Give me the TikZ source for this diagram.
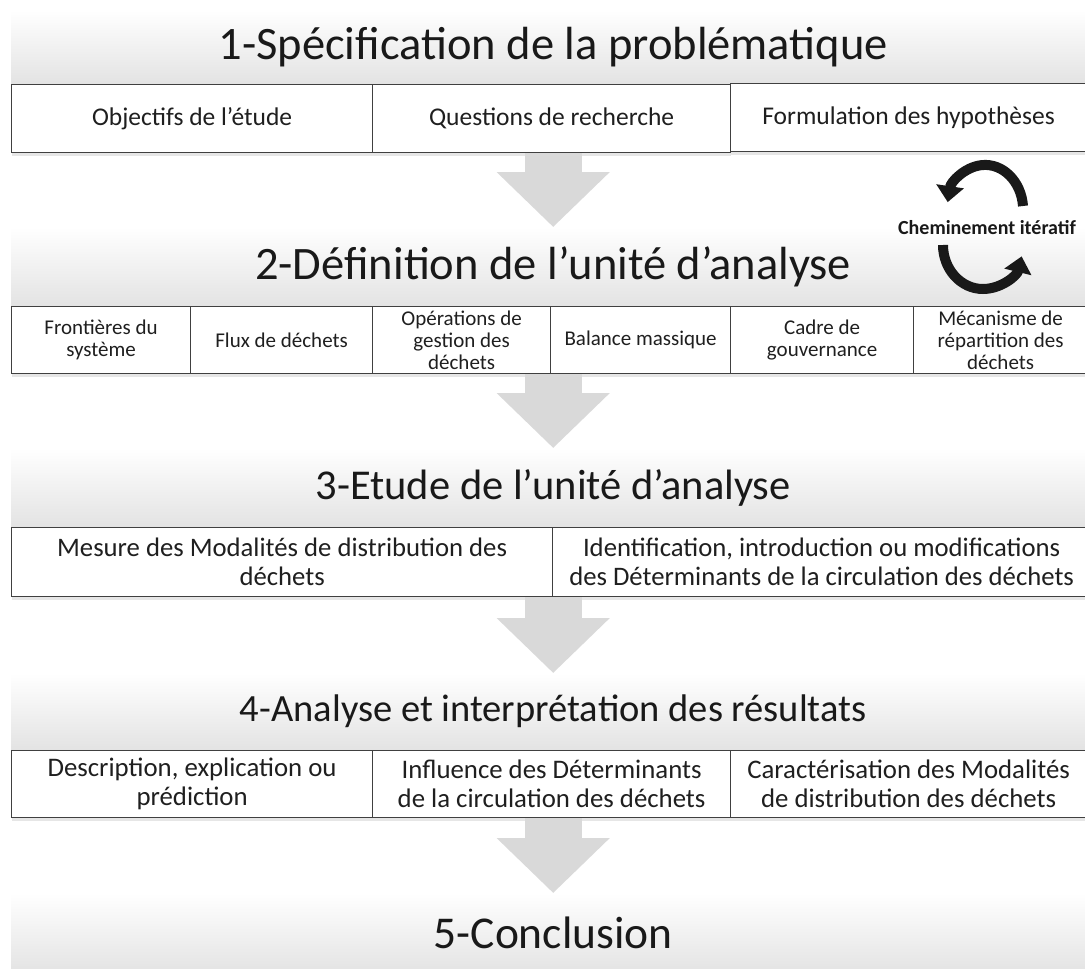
\documentclass[tikz,border=0pt]{standalone}
\usepackage{fontspec}
\setmainfont{Carlito}
\usetikzlibrary{arrows.meta,shadows}

\tikzset{
    banner/.style={anchor=north west, minimum width=1084pt, inner sep=0pt, top color=white, bottom color=gray!22, text=black!90},
    cell/.style={anchor=north west, draw=black!75, line width=1.2pt, fill=white, align=center, inner sep=1pt, text=black!88, drop shadow={opacity=0.2, shadow xshift=0pt, shadow yshift=-3pt}},
    flow/.style={draw=gray!30, line width=57pt, -{Triangle[width=110pt, length=55pt]}},
    loop/.style={line width=10pt, black!90, -{Triangle[width=27pt, length=16pt]}}
}

\begin{document}
\begin{tikzpicture}[x=1pt, y=-1pt]
    \useasboundingbox (0,0) rectangle (1085,969);
    \clip (0,0) rectangle (1085,969);
    % Steps (banners)
    \node[banner, minimum height=74pt, font=\fontsize{46.5}{50}\selectfont] (B1) at (11,10) {1-Spécification de la problématique};
    \node[banner, minimum height=79pt, font=\fontsize{46.5}{50}\selectfont] (B2) at (11,227) {2-Définition de l’unité d’analyse};
    \node[banner, minimum height=79pt, font=\fontsize{42.5}{46}\selectfont] (B3) at (11,448) {3-Etude de l’unité d’analyse};
    \node[banner, minimum height=77pt, font=\fontsize{38.5}{42}\selectfont] (B4) at (11,673) {4-Analyse et interprétation des résultats};
    \node[banner, minimum height=80pt, font=\fontsize{45.5}{49}\selectfont] (B5) at (11,893) {5-Conclusion};
    % Row 1
    \begin{scope}[every node/.append style={minimum height=68pt, font=\fontsize{25.5}{29}\selectfont}]
        \node[cell, minimum width=361pt] (c11) at (11,84) {Objectifs de l’étude};
        \node[cell, minimum width=358pt] (c12) at (372,84) {Questions de recherche};
        \node[cell, minimum width=356pt] (c13) at (730,83) {Formulation des hypothèses};
    \end{scope}
    % Row 2
    \begin{scope}[every node/.append style={minimum height=67pt, font=\fontsize{21}{22}\selectfont}]
        \node[cell, minimum width=179pt] (c21) at (11,306) {Frontières du\\système};
        \node[cell, minimum width=182pt] (c22) at (190,306) {Flux de déchets};
        \node[cell, minimum width=178pt] (c23) at (372,306) {Opérations de\\gestion des\\déchets};
        \node[cell, minimum width=180pt] (c24) at (550,306) {Balance massique};
        \node[cell, minimum width=183pt] (c25) at (730,306) {Cadre de\\gouvernance};
        \node[cell, minimum width=174pt] (c26) at (913,306) {Mécanisme de\\répartition des\\déchets};
    \end{scope}
    % Row 3
    \begin{scope}[every node/.append style={minimum height=69pt, font=\fontsize{26.7}{29}\selectfont}]
        \node[cell, minimum width=541pt] (c31) at (11,527) {Mesure des Modalités de distribution des\\déchets};
        \node[cell, minimum width=538pt] (c32) at (552,527) {Identification, introduction ou modifications\\des Déterminants de la circulation des déchets};
    \end{scope}
    % Row 4
    \begin{scope}[every node/.append style={minimum height=67pt, font=\fontsize{26.8}{29}\selectfont}]
        \node[cell, minimum width=361pt] (c41) at (11,750) {Description, explication ou\\prédiction};
        \node[cell, minimum width=358pt] (c42) at (372,750) {Influence des Déterminants\\de la circulation des déchets};
        \node[cell, minimum width=356pt] (c43) at (730,750) {Caractérisation des Modalités\\de distribution des déchets};
    \end{scope}
    % Flow arrows
    \draw[flow] (B2.north |- c12.south) -- (B2.north);
    \draw[flow] (B3.north |- c23.south) -- (B3.north);
    \draw[flow] (B4.north |- c31.south) -- (B4.north);
    \draw[flow] (B5.north |- c42.south) -- (B5.north);
    % Iteration
    \node[font=\fontsize{20}{24}\selectfont\bfseries, text=black!90] (cyc) at (987,228) {Cheminement itératif};
    \draw[loop] (1023,206) arc[start angle=-5, end angle=-170, x radius=38, y radius=45];
    \draw[loop] (943,245) arc[start angle=180, end angle=15, x radius=40, y radius=44];
\end{tikzpicture}
\end{document}
